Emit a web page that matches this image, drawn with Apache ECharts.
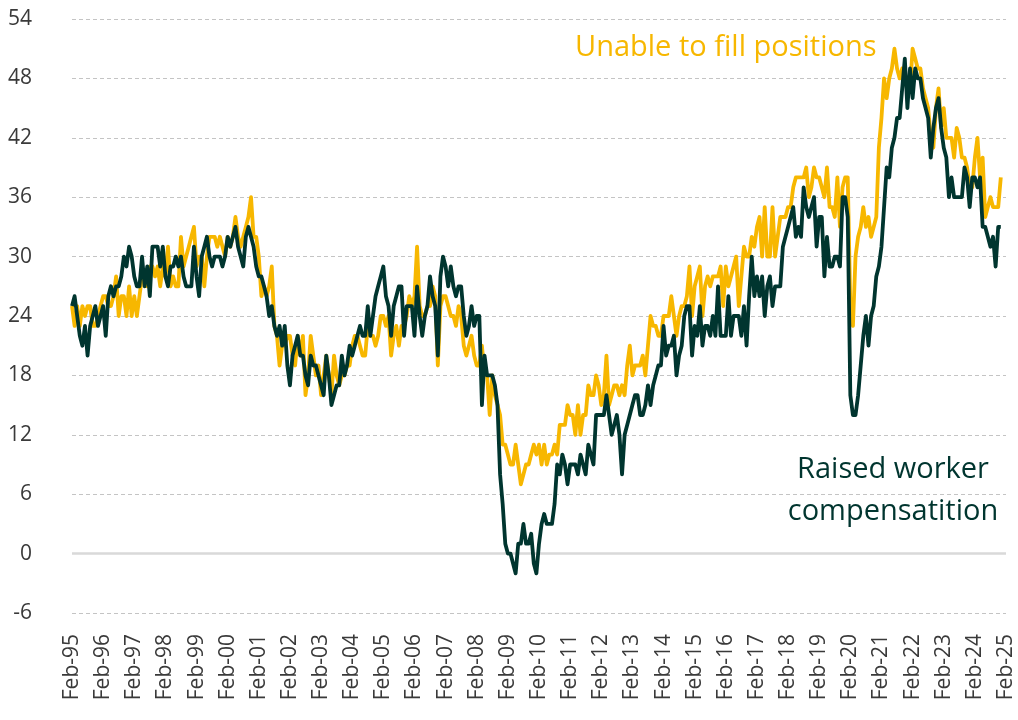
<!DOCTYPE html>
<html>
<head>
<meta charset="utf-8">
<title>Small business hiring conditions</title>
<script src="https://cdn.jsdelivr.net/npm/echarts@6/dist/echarts.min.js"></script>
<style>
  html, body { margin: 0; padding: 0; background: #ffffff; }
  #chart { width: 1018px; height: 720px; }
</style>
</head>
<body>
<div id="chart"></div>
<script>
// Monthly readings, Feb-95 onward (percent of firms)
const unableToFill = [
  25, 23, 25, 23, 25, 24, 25, 25, 23, 23, 24, 25,
  26, 26, 25, 25, 26, 28, 24, 26, 26, 24, 27, 24,
  26, 24, 26, 28, 28, 27, 29, 29, 28, 29, 27, 29,
  28, 31, 27, 28, 27, 27, 32, 29, 30, 31, 32, 33,
  29, 30, 30, 27, 30, 32, 32, 32, 31, 32, 31, 30,
  32, 31, 32, 34, 32, 31, 32, 33, 34, 36, 32, 32,
  30, 26, 27, 26, 27, 29, 23, 22, 19, 21, 21, 22,
  22, 20, 19, 22, 20, 22, 16, 18, 22, 20, 18, 19,
  16, 18, 20, 18, 16, 20, 18, 17, 18, 18, 19, 19,
  21, 22, 22, 21, 20, 20, 23, 22, 22, 21, 22, 24,
  24, 23, 24, 20, 22, 23, 21, 23, 23, 24, 26, 25,
  26, 31, 25, 24, 24, 25, 25, 27, 26, 19, 25, 26,
  26, 25, 24, 24, 23, 25, 24, 21, 20, 21, 22, 20,
  19, 19, 21, 18, 18, 14, 18, 16, 15, 14, 11, 11,
  10, 9, 9, 11, 9, 7, 8, 9, 9, 10, 11, 10,
  11, 9, 11, 9, 10, 10, 11, 10, 13, 13, 13, 15,
  14, 14, 12, 15, 12, 14, 14, 17, 16, 16, 18, 17,
  15, 16, 20, 15, 16, 17, 17, 16, 17, 16, 19, 21,
  18, 19, 19, 19, 20, 18, 21, 24, 23, 23, 22, 22,
  24, 24, 24, 26, 24, 22, 24, 25, 25, 26, 29, 24,
  27, 28, 29, 24, 27, 28, 27, 28, 28, 28, 29, 25,
  29, 27, 28, 29, 30, 25, 28, 31, 30, 30, 32, 31,
  33, 34, 30, 35, 30, 30, 35, 30, 32, 34, 34, 34,
  35, 35, 37, 38, 38, 38, 38, 39, 36, 37, 39, 38,
  38, 37, 36, 39, 35, 35, 34, 38, 33, 37, 38, 38,
  25, 23, 30, 32, 33, 35, 33, 34, 32, 33, 34, 41,
  44, 48, 46, 48, 49, 51, 49, 48, 49, 48, 47, 47,
  51, 50, 49, 49, 47, 46, 45, 42, 41, 45, 47, 43,
  45, 42, 42, 42, 40, 43, 42, 40, 40, 39, 37, 37,
  40, 42, 38, 40, 34, 35, 36, 35, 35, 35, 38
];

const raisedCompensation = [
  25, 26, 24, 22, 21, 23, 20, 23, 24, 25, 23, 24,
  25, 22, 26, 27, 26, 27, 27, 28, 30, 29, 31, 30,
  28, 27, 27, 30, 27, 29, 26, 31, 31, 31, 29, 31,
  28, 27, 29, 29, 30, 29, 30, 28, 27, 27, 27, 31,
  28, 26, 30, 31, 32, 30, 29, 30, 30, 30, 29, 30,
  32, 31, 32, 33, 31, 30, 29, 32, 33, 32, 31, 29,
  28, 28, 27, 26, 24, 25, 23, 22, 23, 21, 23, 19,
  17, 20, 21, 22, 20, 20, 18, 17, 20, 19, 19, 18,
  17, 16, 20, 18, 15, 16, 17, 17, 20, 18, 19, 21,
  20, 21, 22, 23, 22, 22, 25, 22, 24, 26, 27, 28,
  29, 26, 25, 22, 25, 26, 27, 27, 22, 25, 25, 25,
  22, 27, 24, 22, 24, 25, 28, 26, 25, 20, 28, 30,
  29, 27, 29, 27, 26, 27, 27, 24, 22, 23, 25, 23,
  24, 24, 15, 20, 18, 18, 18, 17, 15, 8, 5, 1,
  0, 0, -1, -2, 1, 1, 3, 1, 1, 2, -1, -2,
  1, 3, 4, 3, 3, 3, 5, 9, 8, 10, 9, 7,
  9, 9, 9, 8, 10, 9, 8, 11, 10, 9, 14, 14,
  14, 14, 16, 14, 12, 13, 14, 12, 8, 12, 13, 14,
  15, 16, 16, 14, 14, 15, 17, 15, 17, 18, 19, 19,
  23, 20, 21, 21, 22, 18, 20, 21, 24, 25, 25, 20,
  23, 22, 25, 21, 23, 23, 22, 24, 22, 27, 22, 22,
  22, 26, 22, 24, 24, 24, 22, 25, 21, 26, 30, 26,
  28, 26, 28, 24, 27, 28, 25, 27, 27, 27, 31, 32,
  33, 34, 35, 32, 33, 32, 37, 35, 34, 35, 36, 31,
  34, 34, 28, 32, 29, 29, 30, 30, 29, 36, 36, 34,
  16, 14, 14, 16, 19, 22, 24, 21, 24, 25, 28, 29,
  31, 35, 39, 38, 41, 42, 44, 44, 47, 50, 45, 49,
  46, 49, 48, 48, 46, 45, 44, 40, 43, 45, 46, 43,
  41, 40, 36, 38, 36, 36, 36, 36, 39, 38, 35, 38,
  38, 37, 38, 33, 33, 32, 31, 32, 29, 33, 33
];

// Month labels from Feb-95 through Feb-25
const monthNames = ['Jan', 'Feb', 'Mar', 'Apr', 'May', 'Jun', 'Jul', 'Aug', 'Sep', 'Oct', 'Nov', 'Dec'];
const startYear = 1995, startMonth = 1, monthCount = 361;
const months = [];
for (let k = 0; k < monthCount; k++) {
  const m = (startMonth + k) % 12;
  const y = startYear + Math.floor((startMonth + k) / 12);
  months.push(monthNames[m] + '-' + String(y % 100).padStart(2, '0'));
}

const yTicks = { min: -6, max: 54, step: 6 };

const seriesNames = ['Unable to fill positions', 'Raised worker compensatition'];
const gold = '#F7B700';
const darkGreen = '#00352F';
const fontFamily = '"Open Sans", sans-serif';

const chart = echarts.init(document.getElementById('chart'), null, { renderer: 'canvas' });

chart.setOption({
  animation: false,
  backgroundColor: '#ffffff',
  grid: { left: 72, right: 12, top: 19, bottom: 107 },
  xAxis: {
    type: 'category',
    data: months,
    boundaryGap: false,
    axisLine: { show: false },
    axisTick: { show: false },
    splitLine: { show: false },
    axisLabel: {
      interval: 11,
      rotate: 90,
      margin: 21,
      fontSize: 21,
      color: '#3a3a3a',
      fontFamily: fontFamily
    }
  },
  yAxis: {
    type: 'value',
    min: yTicks.min,
    max: yTicks.max,
    interval: yTicks.step,
    axisLine: { show: false },
    axisTick: { show: false },
    axisLabel: {
      margin: 40,
      fontSize: 21,
      color: '#3a3a3a',
      fontFamily: fontFamily
    },
    splitLine: {
      lineStyle: { color: '#c4c4c4', width: 1, type: [4, 3] }
    }
  },
  series: [
    {
      name: seriesNames[0],
      type: 'line',
      data: unableToFill,
      showSymbol: false,
      symbol: 'none',
      lineStyle: { color: gold, width: 3.8, join: 'round' },
      z: 2,
      markLine: {
        silent: true,
        symbol: 'none',
        label: { show: false },
        lineStyle: { color: '#d9d9d9', width: 2.5, type: 'solid' },
        data: [{ yAxis: 0 }],
        z: 1
      }
    },
    {
      name: seriesNames[1],
      type: 'line',
      data: raisedCompensation,
      showSymbol: false,
      symbol: 'none',
      lineStyle: { color: darkGreen, width: 3.8, join: 'round' },
      z: 3
    }
  ],
  graphic: [
    {
      type: 'text',
      left: 575,
      top: 33,
      style: {
        text: 'Unable to fill positions',
        fill: gold,
        font: '29px ' + fontFamily
      }
    },
    {
      type: 'text',
      x: 893,
      y: 455,
      style: {
        text: 'Raised worker',
        fill: darkGreen,
        font: '29px ' + fontFamily,
        align: 'center'
      }
    },
    {
      type: 'text',
      x: 893,
      y: 497,
      style: {
        text: 'compensatition',
        fill: darkGreen,
        font: '29px ' + fontFamily,
        align: 'center'
      }
    }
  ]
});
</script>
</body>
</html>
